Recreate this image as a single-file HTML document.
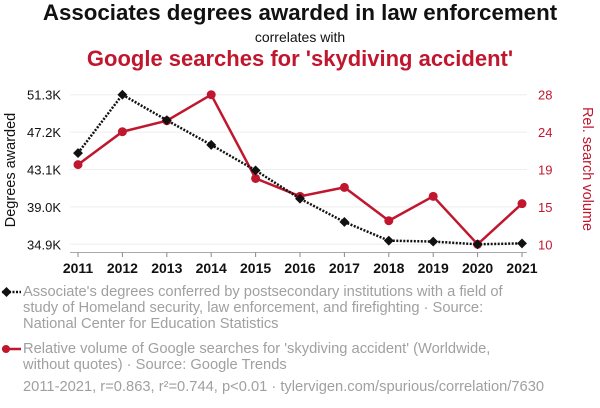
<!DOCTYPE html>
<html><head><meta charset="utf-8"><style>
body{margin:0;width:600px;height:408px;background:#fff;font-family:"Liberation Sans",sans-serif;overflow:hidden;position:relative}
.t{position:absolute;left:0;width:600px;text-align:center;white-space:nowrap}
.leg{position:absolute;left:23px;width:577px;color:#a0a0a0;font-size:14.7px;line-height:16px;white-space:nowrap}
</style></head><body>
<div class="t" style="top:0px;font-size:22.3px;font-weight:bold;color:#111">Associates degrees awarded in law enforcement</div>
<div class="t" style="top:29px;font-size:14px;color:#111">correlates with</div>
<div class="t" style="top:46px;font-size:22px;font-weight:bold;color:#c0172f">Google searches for 'skydiving accident'</div>
<svg id="c" width="600" height="408" style="position:absolute;left:0;top:0"></svg>
<div>
<svg style="position:absolute;left:0;top:285px" width="24" height="14"><line x1="2" y1="7" x2="21" y2="7" stroke="#111" stroke-width="2.5" stroke-dasharray="2,1.5"/><rect x="3" y="3.5" width="7" height="7" transform="rotate(45 6.5 7)" fill="#111"/></svg>
<div class="leg" style="top:284px">Associate's degrees conferred by postsecondary institutions with a field of<br>study of Homeland security, law enforcement, and firefighting · Source:<br>National Center for Education Statistics</div></div>
<div>
<svg style="position:absolute;left:0;top:342px" width="24" height="14"><line x1="2" y1="7" x2="21" y2="7" stroke="#c0172f" stroke-width="2.5"/><circle cx="6" cy="7" r="4" fill="#c0172f"/></svg>
<div class="leg" style="top:341px">Relative volume of Google searches for 'skydiving accident' (Worldwide,<br>without quotes) · Source: Google Trends</div></div>
<div class="leg" style="top:379px">2011-2021, r=0.863, r²=0.744, p&lt;0.01 · tylervigen.com/spurious/correlation/7630</div>
<script>
const years=[2011,2012,2013,2014,2015,2016,2017,2018,2019,2020,2021];
const degrees=[44.9,51.3,48.5,45.8,43.0,39.9,37.35,35.3,35.2,34.9,35.0];
const searches=[19.8,23.85,25.2,28.4,18.1,15.9,17.0,12.9,15.9,10,15.0];
const leftTicks=[34.9,39.0,43.1,47.2,51.3];
const rightTicks=[10,14.6,19.2,23.8,28.4];
const NS="http://www.w3.org/2000/svg",svg=document.getElementById('c');
const X0=78,X1=522,YT=94.7,YB=244.3;
const xs=i=>X0+(X1-X0)*i/(years.length-1);
const yl=v=>YB-(v-34.9)/(51.3-34.9)*(YB-YT);
const yr=v=>YB-(v-10)/(28.4-10)*(YB-YT);
function mk(t,a,p){const e=document.createElementNS(NS,t);for(const k in a)e.setAttribute(k,a[k]);(p||svg).appendChild(e);return e;}
leftTicks.forEach((v,i)=>{
 const g=mk('line',{x1:70,x2:527,y1:yl(v),y2:yl(v),stroke:'#eee','stroke-width':1});
 
 const t=mk('text',{x:61,y:yl(v)+5,'text-anchor':'end','font-size':13,fill:'#111'});t.textContent=v.toFixed(1)+'K';
 
});
rightTicks.forEach(v=>{
 const t=mk('text',{x:538,y:yr(v)+5,'text-anchor':'start','font-size':13,fill:'#c0172f'});t.textContent=Math.round(v);
 
});
mk('line',{x1:70,x2:527,y1:252.5,y2:252.5,stroke:'#aaa','stroke-width':1});
years.forEach((y,i)=>{
 mk('line',{x1:xs(i),x2:xs(i),y1:252.5,y2:257,stroke:'#888'});
 const t=mk('text',{x:xs(i),y:273,'text-anchor':'middle','font-size':14,'font-weight':'bold',fill:'#111'});t.textContent=y;
 
});
let a=mk('text',{x:0,y:0,transform:'translate(15,170) rotate(-90)','text-anchor':'middle','font-size':14.5,fill:'#111'});a.textContent='Degrees awarded';

a=mk('text',{x:0,y:0,transform:'translate(583,169) rotate(90)','text-anchor':'middle','font-size':14.5,fill:'#c0172f'});a.textContent='Rel. search volume';

let p=mk('polyline',{points:searches.map((v,i)=>xs(i)+','+yr(v)).join(' '),fill:'none',stroke:'#c0172f','stroke-width':2.5});

searches.forEach((v,i)=>{const c=mk('circle',{cx:xs(i),cy:yr(v),r:4.5,fill:'#c0172f'});
 });
p=mk('polyline',{points:degrees.map((v,i)=>xs(i)+','+yl(v)).join(' '),fill:'none',stroke:'#111','stroke-width':2.5,'stroke-dasharray':'2,1.5'});

degrees.forEach((v,i)=>{const r=mk('rect',{x:xs(i)-3.5,y:yl(v)-3.5,width:7,height:7,fill:'#111',transform:`rotate(45 ${xs(i)} ${yl(v)})`});
 });
</script>
</body></html>
